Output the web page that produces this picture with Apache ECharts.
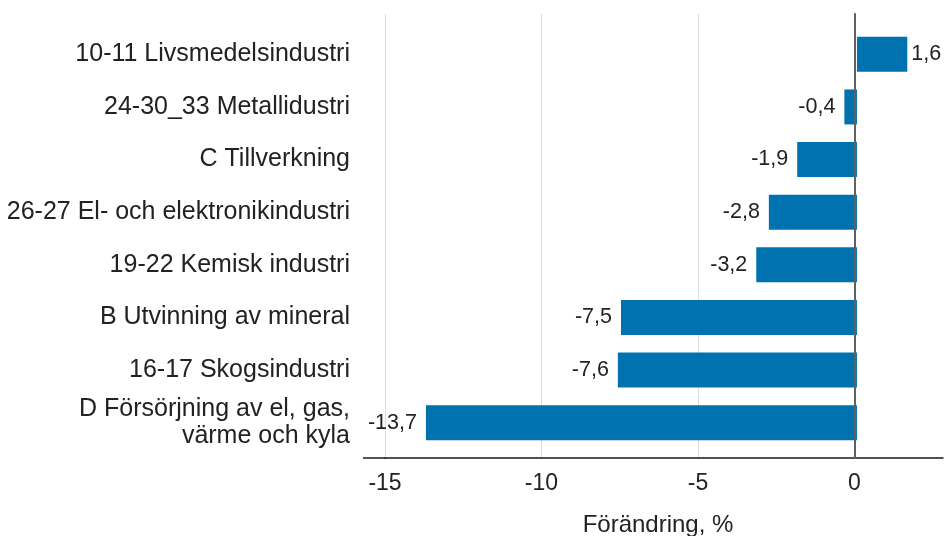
<!DOCTYPE html>
<html><head><meta charset="utf-8">
<script src="https://cdn.jsdelivr.net/npm/echarts@6/dist/echarts.min.js"></script>
<style>html,body{margin:0;padding:0;background:#fff}#c{width:946px;height:536px}</style>
</head><body><div id="c"></div>
<script>
const categories = [
  "10-11 Livsmedelsindustri",
  "24-30_33 Metallidustri",
  "C Tillverkning",
  "26-27 El- och elektronikindustri",
  "19-22 Kemisk industri",
  "B Utvinning av mineral",
  "16-17 Skogsindustri",
  "D Försörjning av el, gas,\nvärme och kyla"
];
const values = [1.6, -0.4, -1.9, -2.8, -3.2, -7.5, -7.6, -13.7];
const axisTitle = "Förändring, %";
const xMin = -15, xMax = 2.83, xInterval = 5;

const font = "'Liberation Sans', Arial, sans-serif";
const chart = echarts.init(document.getElementById('c'), null, {renderer: 'canvas'});
chart.setOption({
  animation: false,
  title: {
    text: axisTitle, left: 658, top: 513, textAlign: 'center', padding: 0,
    textStyle: {fontFamily: font, fontSize: 24, fontWeight: 'normal', color: '#222'}
  },
  grid: [
    {left: 385, right: 0, top: 14, bottom: 78},
    {left: 385, right: 0, top: 28, bottom: 87}
  ],
  xAxis: [
    {gridIndex: 0, type: 'value', min: xMin, max: xMax, interval: xInterval,
     axisLine: {show: true, onZero: false, lineStyle: {color: '#1a1a1a', width: 1.5}},
     axisTick: {show: false},
     splitLine: {show: true, showMaxLine: false, lineStyle: {color: '#dddddd', width: 1}},
     axisLabel: {fontFamily: font, fontSize: 23, color: '#222', margin: 14,
       formatter: v => (v > 2 ? '' : String(v))}},
    {gridIndex: 1, type: 'value', min: xMin, max: xMax, show: false}
  ],
  yAxis: [
    {gridIndex: 0, type: 'category', data: categories, inverse: true, z: 5,
     axisLine: {show: true, onZero: true, lineStyle: {color: '#606060', width: 2}},
     axisTick: {show: false}, axisLabel: {show: false}, splitLine: {show: false}},
    {gridIndex: 1, type: 'category', data: categories, inverse: true,
     axisLine: {show: false}, axisTick: {show: false},
     axisLabel: {fontFamily: font, fontSize: 25, color: '#222', margin: 35, lineHeight: 27, align: 'right'}}
  ],
  series: [{
    type: 'bar', xAxisIndex: 1, yAxisIndex: 1,
    barCategoryGap: '33.5%',
    itemStyle: {color: '#0072b0'},
    data: values.map(v => ({
      value: v,
      label: {show: true, position: v >= 0 ? 'right' : 'left', distance: v >= 0 ? 4 : 9,
        fontFamily: font, fontSize: 21.5, color: '#222',
        formatter: p => String(p.value).replace('.', ',')}
    }))
  }],
  graphic: [{
    type: 'line', shape: {x1: 363, y1: 458, x2: 386, y2: 458},
    style: {stroke: '#1a1a1a', lineWidth: 1.5}
  }]
});
</script></body></html>
